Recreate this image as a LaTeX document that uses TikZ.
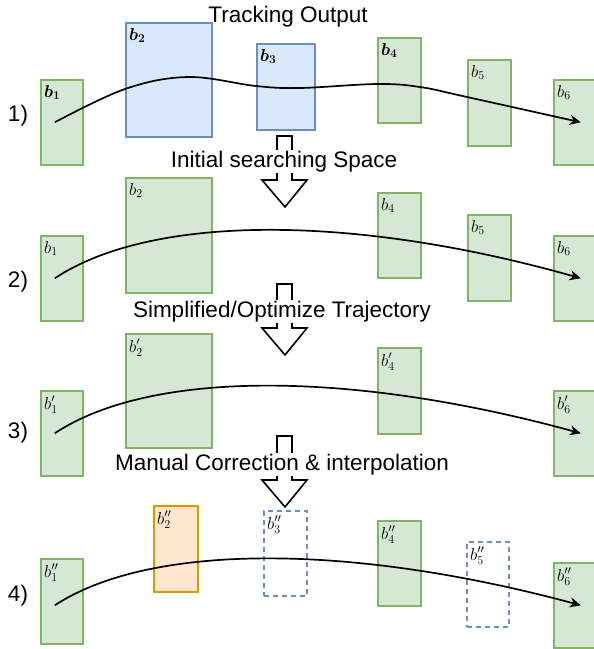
\documentclass[tikz,border=0pt]{standalone}
\usepackage{fontspec}
\setsansfont{Liberation Sans}
\usepackage{bm}
\usetikzlibrary{arrows.meta}

\definecolor{gfill}{HTML}{D5E8D4}
\definecolor{gline}{HTML}{82B366}
\definecolor{bfill}{HTML}{DAE8FC}
\definecolor{bline}{HTML}{6C8EBF}
\definecolor{ofill}{HTML}{FFE6CC}
\definecolor{oline}{HTML}{D79B00}

\tikzset{
  box/.style={draw, line width=1.6pt, minimum width=42pt, minimum height=85pt,
    anchor=north west, inner sep=0pt},
  gbox/.style={box, draw=gline, fill=gfill},
  bbox/.style={box, draw=bline, fill=bfill},
  obox/.style={box, draw=oline, fill=ofill},
  dbox/.style={box, draw=bline, dash pattern=on 5pt off 4pt},
  tag/.style={label={[anchor=north west, inner sep=0pt, xshift=4pt, yshift=-6pt,
    font=\fontsize{17.28}{20}\selectfont]north west:#1}},
  caption/.style={font=\sffamily\fontsize{22.5}{26}\selectfont, fill=white,
    inner sep=1pt, anchor=base},
  rowno/.style={font=\sffamily\fontsize{22.5}{26}\selectfont},
  traj/.style={line width=1.7pt, -{Stealth[length=11pt, width=10pt]}},
  hollow/.style={draw, line width=1.6pt, fill=white, line join=miter}
}

\begin{document}
\begin{tikzpicture}[x=1pt, y=-1pt]
  \useasboundingbox (0,0) rectangle (594,649);

  % 1) tracking output
  \node[gbox, tag={$\bm{b_1}$}] (o1) at (40,79) {};
  \node[bbox, minimum width=86pt, minimum height=114pt, tag={$\bm{b_2}$}] (o2) at (125,22) {};
  \node[bbox, minimum width=58pt, minimum height=86pt, tag={$\bm{b_3}$}] (o3) at (256,43) {};
  \node[gbox, minimum width=43pt, tag={$\bm{b_4}$}] (o4) at (377,37) {};
  \node[gbox, minimum width=43pt, minimum height=86pt, tag={$b_5$}] (o5) at (467,59) {};
  \node[gbox, tag={$b_6$}] (o6) at (553,79) {};
  \draw[traj] plot[smooth, tension=0.6] coordinates {([xshift=-7pt]o1.center)
    (125,89) (188,77) (256,86) (300,88) (377,84) (420,87) (467,97)
    ([xshift=6pt]o6.center)};

  % 2) initial searching space
  \node[gbox, tag={$b_1$}] (i1) at (40,235) {};
  \node[gbox, minimum width=86pt, minimum height=115pt, tag={$b_2$}] (i2) at (125,177) {};
  \node[gbox, minimum width=43pt, tag={$b_4$}] (i4) at (377,192) {};
  \node[gbox, minimum width=43pt, minimum height=86pt, tag={$b_5$}] (i5) at (467,214) {};
  \node[gbox, tag={$b_6$}] (i6) at (553,235) {};
  \draw[traj] ([xshift=-7pt]i1.center) .. controls (150,215) and (350,213)
    .. ([xshift=6pt]i6.center);

  % 3) simplified trajectory
  \node[gbox, tag={$b'_1$}] (s1) at (40,390) {};
  \node[gbox, minimum width=86pt, minimum height=114pt, tag={$b'_2$}] (s2) at (125,333) {};
  \node[gbox, minimum width=43pt, minimum height=86pt, tag={$b'_4$}] (s4) at (377,347) {};
  \node[gbox, tag={$b'_6$}] (s6) at (553,390) {};
  \draw[traj] ([xshift=-7pt]s1.center) .. controls (150,370) and (350,370)
    .. ([xshift=6pt]s6.center);

  % 4) manual correction
  \node[gbox, tag={$b''_1$}] (m1) at (40,558) {};
  \node[obox, minimum width=44pt, minimum height=86pt, tag={$b''_2$}] (m2) at (153,505) {};
  \node[dbox, minimum width=43pt, tag={$b''_3$}] (m3) at (263,510) {};
  \node[gbox, minimum width=43pt, tag={$b''_4$}] (m4) at (377,520) {};
  \node[dbox, tag={$b''_5$}] (m5) at (466,541) {};
  \node[gbox, tag={$b''_6$}] (m6) at (553,562) {};
  \draw[traj] ([xshift=-7pt, yshift=-4pt]m1.center) .. controls (150,543) and (350,543)
    .. ([xshift=6pt]m6.center);

  % block arrows between the steps
  \foreach \t in {136,284,436}
    \draw[hollow] (277,\t) -- ++(15,0) -- ++(0,44) -- ++(15,0) -- ++(-22,27)
      -- ++(-23,-27) -- ++(15,0) -- cycle;

  \node[caption, fill=none] (title) at (288,22) {Tracking Output};
  \node[caption] (step1) at (284,167) {Initial searching Space};
  \node[caption] (step2) at (282,317) {Simplified/Optimize Trajectory};
  \node[caption] (step3) at (282,470) {Manual Correction \& interpolation};

  \node[rowno] (n1) at (18,116) {1)};
  \node[rowno] (n2) at (18,282) {2)};
  \node[rowno] (n3) at (18,433) {3)};
  \node[rowno] (n4) at (18,596) {4)};
\end{tikzpicture}
\end{document}
